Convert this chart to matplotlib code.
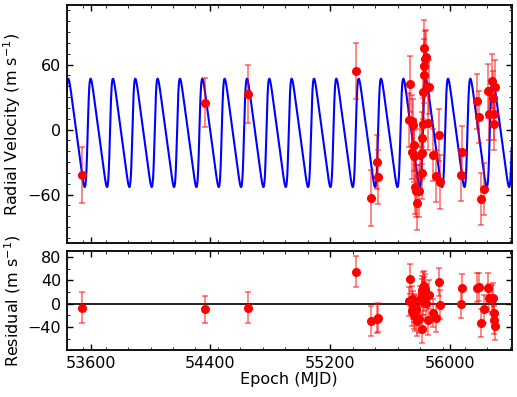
import numpy as np
import matplotlib
matplotlib.use('Agg')
import matplotlib.pyplot as plt
from matplotlib.ticker import MultipleLocator

epoch = [53540, 54363, 54652, 55371, 55471, 55514, 55518,
         55727, 55732, 55743, 55744, 55750, 55758, 55760, 55765, 55776, 55780,
         55794, 55798, 55810, 55814, 55816, 55817, 55820, 55825, 55827, 55832,
         55828, 55843, 55850, 55861, 55887, 55905, 55925, 55932,
         56072, 56081, 56181, 56197, 56210, 56228, 56257, 56259, 56281,
         56288, 56292, 56294, 56301]
rv = [-42, 25, 33, 54, -63, -30, -44,
      9, 42, 8, -21, 4, -14, -24, -53, -57, -68,
      -57, -23, -40, -22, -8, 5, 35, 50, 59, 65,
      75, 67, 6, 39, -23, -43, -5, -48,
      -42, -21, 26, 12, -64, -55, 36, 14, 45,
      29, 5, 14, 39]
rv_err = [26, 23, 27, 26, 26, 25, 25,
          25, 26, 24, 25, 24, 24, 24, 25, 24, 25,
          24, 24, 24, 24, 24, 24, 25, 25, 25, 26,
          26, 25, 25, 25, 24, 24, 24, 25,
          24, 24, 25, 24, 24, 24, 25, 24, 25,
          25, 24, 24, 25]
resid = [-7, -10, -7, 55, -30, -26, -24,
         4, 42, 7, -13, -2, -8, -19, -22, -10, -30,
         -26, 7, 24, -44, 18, 5, 29, 21, 12, 25,
         30, 1, -29, 15, -16, -25, 37, -2,
         0, 27, 27, 28, -33, -9, 27, 10, 7,
         10, -17, -29, -38]
resid_err = rv_err

# orbital solution shown as the blue curve
period = 149.2
ecc = 0.38
omega = -np.pi / 2
K = 50.0
gamma = -3.0
t_peak = 53450.5

xmin, xmax = 53440, 56412

# model curve
E_pk = np.arccos(ecc)
t_peri = t_peak - (E_pk - ecc * np.sin(E_pk)) / (2 * np.pi) * period
t = np.linspace(xmin, xmax, 6000)
M = 2 * np.pi * (t - t_peri) / period
E = M.copy()
for _ in range(30):
    E = E - (E - ecc * np.sin(E) - M) / (1 - ecc * np.cos(E))
nu = 2 * np.arctan2(np.sqrt(1 + ecc) * np.sin(E / 2), np.sqrt(1 - ecc) * np.cos(E / 2))
model = K * (np.cos(nu + omega) + ecc * np.cos(omega)) + gamma

plt.rcParams['font.family'] = 'DejaVu Sans'
plt.rcParams['font.size'] = 11.5

fig = plt.figure(figsize=(5.17, 3.97), dpi=100)
ax1 = fig.add_axes([0.129, 0.387, 0.8607, 0.6003])
ax2 = fig.add_axes([0.129, 0.118, 0.8607, 0.2494])

ax1.plot(t, model, color='blue', lw=1.5, zorder=2)
ax1.errorbar(epoch, rv, yerr=rv_err, fmt='o', color='red', mec='red', ms=5.5,
             ecolor=(1, 0, 0, 0.55), elinewidth=1.2, capsize=2.5, capthick=1.2, zorder=3)
ax2.axhline(0, color='black', lw=1.2, zorder=2)
ax2.errorbar(epoch, resid, yerr=resid_err, fmt='o', color='red', mec='red', ms=5.5,
             ecolor=(1, 0, 0, 0.55), elinewidth=1.2, capsize=2.5, capthick=1.2, zorder=3)

ax1.set_xlim(xmin, xmax)
ax2.set_xlim(xmin, xmax)
ax1.set_ylim(-105, 115)
ax2.set_ylim(-80, 90)

ax1.set_yticks([-60, 0, 60])
ax2.set_yticks([-40, 0, 40, 80])
for ax in (ax1, ax2):
    ax.set_xticks([53600, 54400, 55200, 56000])
    ax.xaxis.set_minor_locator(MultipleLocator(150))
    ax.tick_params(which='both', direction='in', top=True, right=True, pad=4)
    ax.tick_params(which='major', length=4, width=1)
    ax.tick_params(which='minor', length=2, width=0.6)
    for s in ax.spines.values():
        s.set_linewidth(1.3)
ax1.yaxis.set_minor_locator(MultipleLocator(10))
ax2.yaxis.set_minor_locator(MultipleLocator(20))
ax1.set_xticklabels([])

ax1.set_ylabel('Radial Velocity (m s$^{-1}$)')
ax2.set_ylabel('Residual (m s$^{-1}$)')
ax1.yaxis.set_label_coords(-0.098, 0.5)
ax2.yaxis.set_label_coords(-0.098, 0.5)
ax2.set_xlabel('Epoch (MJD)', labelpad=1)

fig.savefig('out.png', dpi=100)
